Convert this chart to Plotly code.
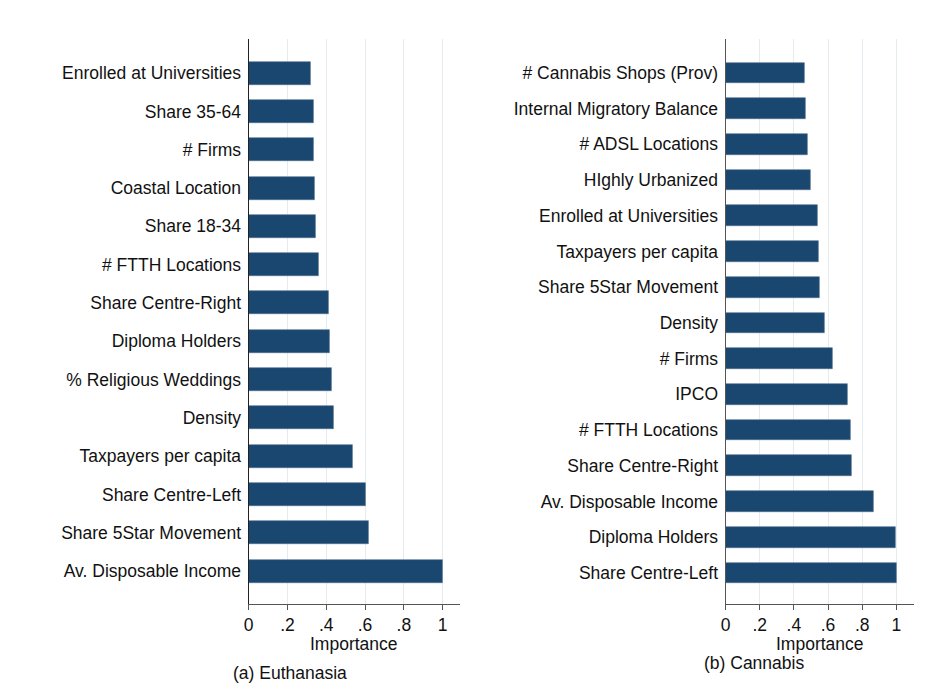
import plotly.graph_objects as go

# Panel (a): Euthanasia — variable importance, top to bottom
euth_vars = [
    "Enrolled at Universities", "Share 35-64", "# Firms", "Coastal Location",
    "Share 18-34", "# FTTH Locations", "Share Centre-Right", "Diploma Holders",
    "% Religious Weddings", "Density", "Taxpayers per capita",
    "Share Centre-Left", "Share 5Star Movement", "Av. Disposable Income",
]
euth_imp = [0.322, 0.334, 0.337, 0.341, 0.344, 0.360, 0.413, 0.420,
            0.426, 0.440, 0.538, 0.603, 0.618, 1.0]

# Panel (b): Cannabis — variable importance, top to bottom
cann_vars = [
    "# Cannabis Shops (Prov)", "Internal Migratory Balance", "# ADSL Locations",
    "HIghly Urbanized", "Enrolled at Universities", "Taxpayers per capita",
    "Share 5Star Movement", "Density", "# Firms", "IPCO", "# FTTH Locations",
    "Share Centre-Right", "Av. Disposable Income", "Diploma Holders",
    "Share Centre-Left",
]
cann_imp = [0.462, 0.468, 0.482, 0.497, 0.538, 0.544, 0.552, 0.581, 0.625,
            0.716, 0.734, 0.741, 0.868, 0.994, 1.0]

tick_vals = [0, 0.2, 0.4, 0.6, 0.8, 1.0]
tick_text = ["0", ".2", ".4", ".6", ".8", "1"]

BAR = "#1a476f"
GRID = "#e4ecef"
FONT = "Liberation Sans, Arial, sans-serif"
FS = 17.5
W, H = 937, 685

fig = go.Figure()
fig.add_trace(go.Bar(x=euth_imp, y=euth_vars, orientation="h",
                     marker=dict(color=BAR, line=dict(color="#4f6f8f", width=0.6)),
                     width=0.6, xaxis="x", yaxis="y", showlegend=False))
fig.add_trace(go.Bar(x=cann_imp, y=cann_vars, orientation="h",
                     marker=dict(color=BAR, line=dict(color="#4f6f8f", width=0.6)),
                     width=0.58, xaxis="x2", yaxis="y2", showlegend=False))

ytop = 1 - 39 / H
ybot = 1 - 604 / H
dom_a = [245 / W, 457.3 / W]
dom_b = [724.5 / W, 913.8 / W]

xcommon = dict(tickvals=tick_vals, ticktext=tick_text, ticks="outside",
               ticklen=5, tickcolor="#555", showline=True, linecolor="#555",
               linewidth=1.2, showgrid=True, gridcolor=GRID, gridwidth=1,
               zeroline=False, tickfont=dict(size=FS, color="#111", family=FONT),
               fixedrange=True)
ycommon = dict(showline=True, linewidth=1.2, ticks="", showgrid=False,
               zeroline=False, ticklabelstandoff=3,
               tickfont=dict(size=FS, color="#111", family=FONT),
               type="category")

fig.update_layout(
    width=W, height=H,
    margin=dict(l=0, r=0, t=0, b=0),
    paper_bgcolor="white", plot_bgcolor="white",
    font=dict(family=FONT, size=FS, color="#111"),
    bargap=0,
    xaxis=dict(domain=dom_a, range=[0, 1.089], anchor="y", **xcommon),
    yaxis=dict(domain=[ybot, ytop], anchor="x", linecolor="#222",
               categoryorder="array", categoryarray=euth_vars,
               range=[len(euth_vars) - 1 + 0.86, -0.89], **ycommon),
    xaxis2=dict(domain=dom_b, range=[0, 1.103], anchor="y2", **xcommon),
    yaxis2=dict(domain=[ybot, ytop], anchor="x2", linecolor="#555",
                categoryorder="array", categoryarray=cann_vars,
                range=[len(cann_vars) - 1 + 0.87, -0.95], **ycommon),
    annotations=[
        dict(text="Importance", x=(dom_a[0] + dom_a[1]) / 2, y=1 - 644 / H,
             xref="paper", yref="paper", showarrow=False,
             xanchor="center", yanchor="middle", font=dict(size=FS)),
        dict(text="Importance", x=(dom_b[0] + dom_b[1]) / 2, y=1 - 644 / H,
             xref="paper", yref="paper", showarrow=False,
             xanchor="center", yanchor="middle", font=dict(size=FS)),
        dict(text="(a) Euthanasia", x=287 / W, y=1 - 673 / H,
             xref="paper", yref="paper", showarrow=False,
             xanchor="center", yanchor="middle", font=dict(size=FS)),
        dict(text="(b) Cannabis", x=753 / W, y=1 - 663 / H,
             xref="paper", yref="paper", showarrow=False,
             xanchor="center", yanchor="middle", font=dict(size=FS)),
    ],
)

fig.write_html("out.html")
